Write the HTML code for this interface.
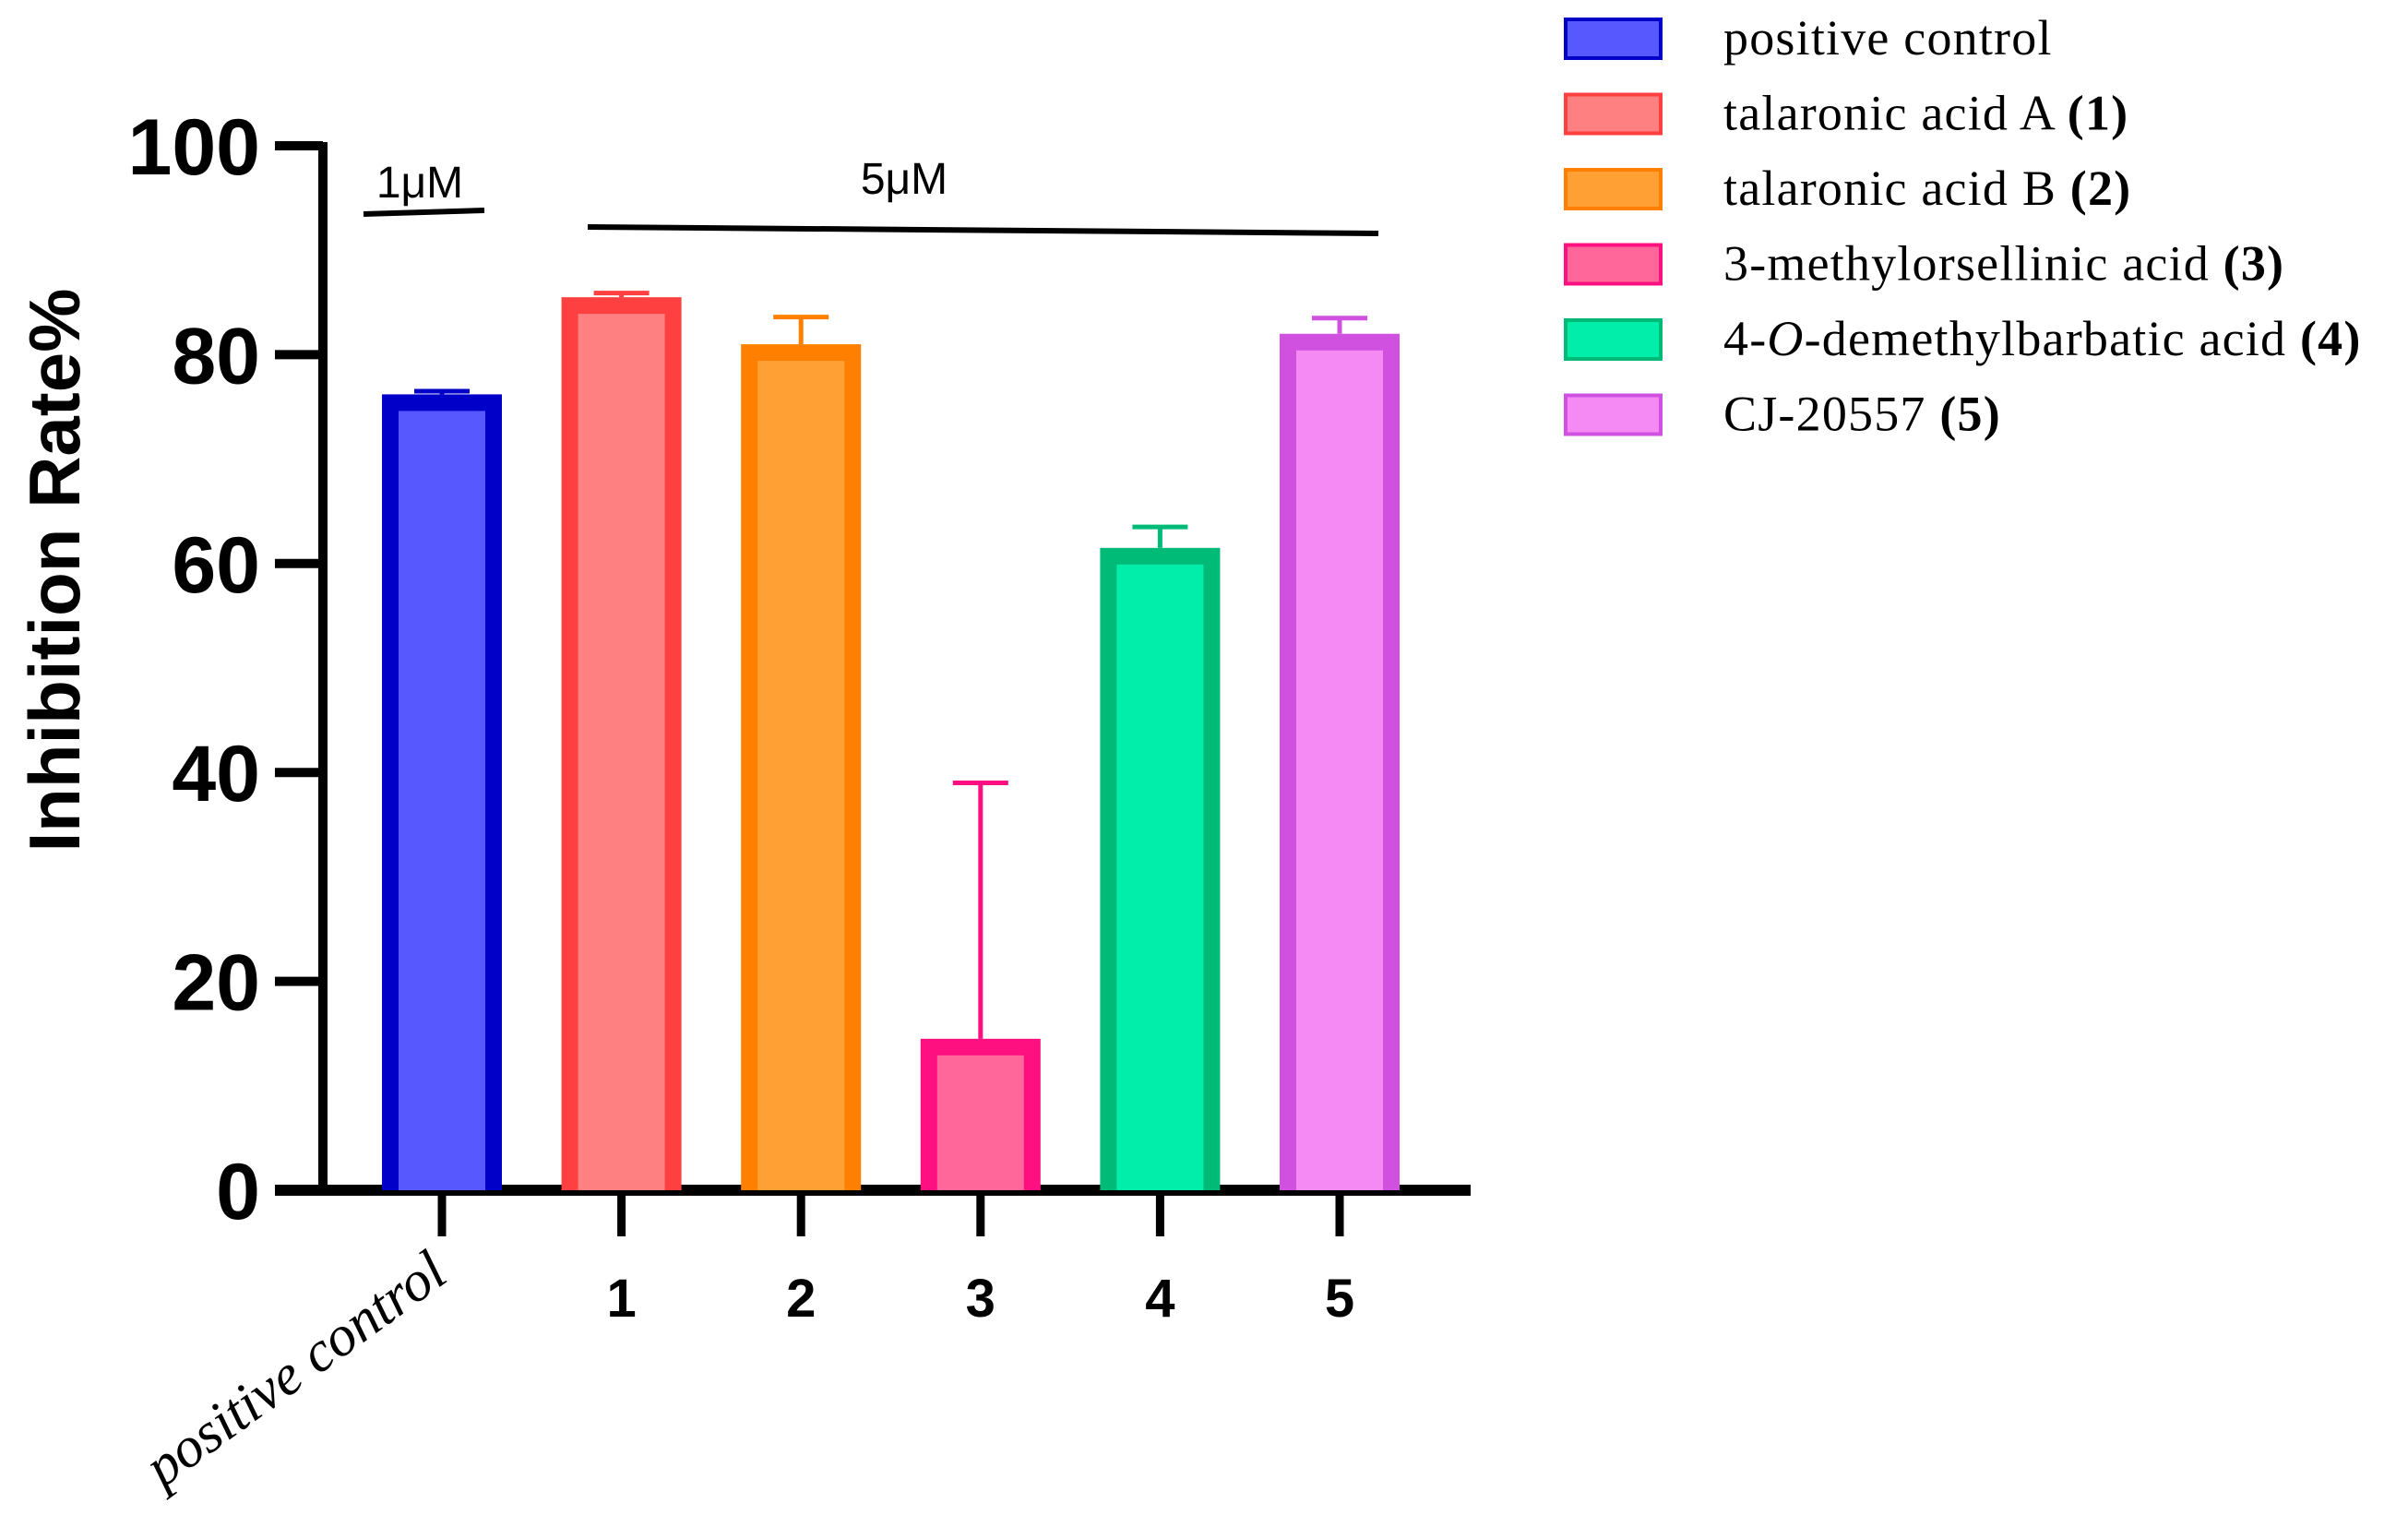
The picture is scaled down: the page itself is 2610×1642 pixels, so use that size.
<!DOCTYPE html>
<html><head><meta charset="utf-8"><style>
html,body{margin:0;padding:0;background:#fff}
svg{display:block}
</style></head><body>
<svg id="chart" xmlns="http://www.w3.org/2000/svg" width="2610" height="1642" viewBox="0 0 2610 1642">
<g id="axes"></g>
<g id="bars"></g>
<g id="legend"></g>
<text transform="translate(86,618) rotate(-90)" text-anchor="middle" font-family="Liberation Sans, sans-serif" font-weight="bold" font-size="78">Inhibition Rate%</text>
<g>
<text x="455" y="214" text-anchor="middle" font-family="Liberation Sans, sans-serif" font-size="48">1μM</text>
<line x1="394" y1="232" x2="525" y2="228" stroke="#000" stroke-width="6"/>
</g>
<g>
<text x="980" y="210" text-anchor="middle" font-family="Liberation Sans, sans-serif" font-size="48">5μM</text>
<line x1="637" y1="246" x2="1494" y2="253" stroke="#000" stroke-width="6"/>
</g>
<text transform="translate(332,1500) rotate(-36)" text-anchor="middle" font-family="Liberation Serif, serif" font-style="italic" font-size="62">positive control</text>
</svg>
<script>
const categories = ["positive control","1","2","3","4","5"];
const values = [76.2, 85.5, 81, 14.5, 61.5, 82];
const errors = [0.3, 0.4, 2.6, 24.5, 2.0, 1.5];
const yTicks = [0, 20, 40, 60, 80, 100];
const legendLabels = [
  ["positive control",""],
  ["talaronic acid A ","(1)"],
  ["talaronic acid B ","(2)"],
  ["3-methylorsellinic acid ","(3)"],
  ["4-O-demethylbarbatic acid ","(4)"],
  ["CJ-20557  ","(5)"]
];
const fills = ["#5858FF","#FF8080","#FFA035","#FF6699","#00EEAA","#F58AF5"];
const strokes = ["#0000C8","#FF4040","#FF8000","#FF1080","#00BB77","#D050E0"];

const NS = "http://www.w3.org/2000/svg";
const y0 = 1290, yTop = 158, axisX = 350;
function yScale(v){ return y0 - (v/100)*(y0 - yTop); }
function xScale(i){ return 479 + i*194.6; }
function mk(tag, attrs, parent){
  const e = document.createElementNS(NS, tag);
  for (const k in attrs) e.setAttribute(k, attrs[k]);
  parent.appendChild(e); return e;
}
const axes = document.getElementById('axes');
const bars = document.getElementById('bars');
const legend = document.getElementById('legend');

categories.forEach((c, i) => {
  const cx = xScale(i), w = 130, bw = 18;
  const top = yScale(values[i]);
  const g = mk('g', {}, bars);
  
  
  const et = yScale(values[i] + errors[i]);
  const el = mk('line', {x1: cx, y1: top, x2: cx, y2: et, stroke: strokes[i], 'stroke-width': 5}, g);
  
  
  const ec = mk('line', {x1: cx - 30, y1: et, x2: cx + 30, y2: et, stroke: strokes[i], 'stroke-width': 5}, g);
  
  
  mk('rect', {x: cx - w/2, y: top, width: w, height: y0 - top, fill: strokes[i]}, g);
  mk('rect', {x: cx - w/2 + bw, y: top + bw, width: w - 2*bw, height: Math.max(0, y0 - top - bw), fill: fills[i]}, g);
  const t = mk('line', {x1: cx, y1: y0, x2: cx, y2: 1340, stroke: '#000', 'stroke-width': 9}, axes);
  
  
  if (i > 0) {
    const lb = mk('text', {x: cx, y: 1427, 'text-anchor': 'middle', 'font-family': 'Liberation Sans, sans-serif', 'font-weight': 'bold', 'font-size': 58}, axes);
    lb.textContent = c;
    
    
  }
});

const ya = mk('line', {x1: axisX, y1: yTop - 4, x2: axisX, y2: y0 + 6, stroke: '#000', 'stroke-width': 10}, axes);


const xa = mk('line', {x1: 298, y1: y0, x2: 1594, y2: y0, stroke: '#000', 'stroke-width': 12}, axes);


yTicks.forEach(v => {
  const y = yScale(v);
  const tk = mk('line', {x1: 298, y1: y, x2: axisX, y2: y, stroke: '#000', 'stroke-width': 10}, axes);
  
  
  const tl = mk('text', {x: 282, y: y + 31, 'text-anchor': 'end', 'font-family': 'Liberation Sans, sans-serif', 'font-weight': 'bold', 'font-size': 86}, axes);
  tl.textContent = v;
  
  
});

legendLabels.forEach((l, i) => {
  const cy = 42 + i * 81.5;
  const g = mk('g', {}, legend);
  
  
  mk('rect', {x: 1697, y: cy - 21, width: 103, height: 42, fill: fills[i], stroke: strokes[i], 'stroke-width': 4}, g);
  const t = mk('text', {x: 1868, y: cy + 17, 'font-family': 'Liberation Serif, serif', 'font-size': 54, 'letter-spacing': 1.2}, g);
  if (i === 4) {
    const a = mk('tspan', {}, t); a.textContent = '4-';
    const b = mk('tspan', {'font-style': 'italic'}, t); b.textContent = 'O';
    const c2 = mk('tspan', {}, t); c2.textContent = '-demethylbarbatic acid ';
  } else {
    const a = mk('tspan', {}, t); a.textContent = l[0];
  }
  if (l[1]) { const b = mk('tspan', {'font-weight': 'bold'}, t); b.textContent = l[1]; }
});
</script>
</body></html>
